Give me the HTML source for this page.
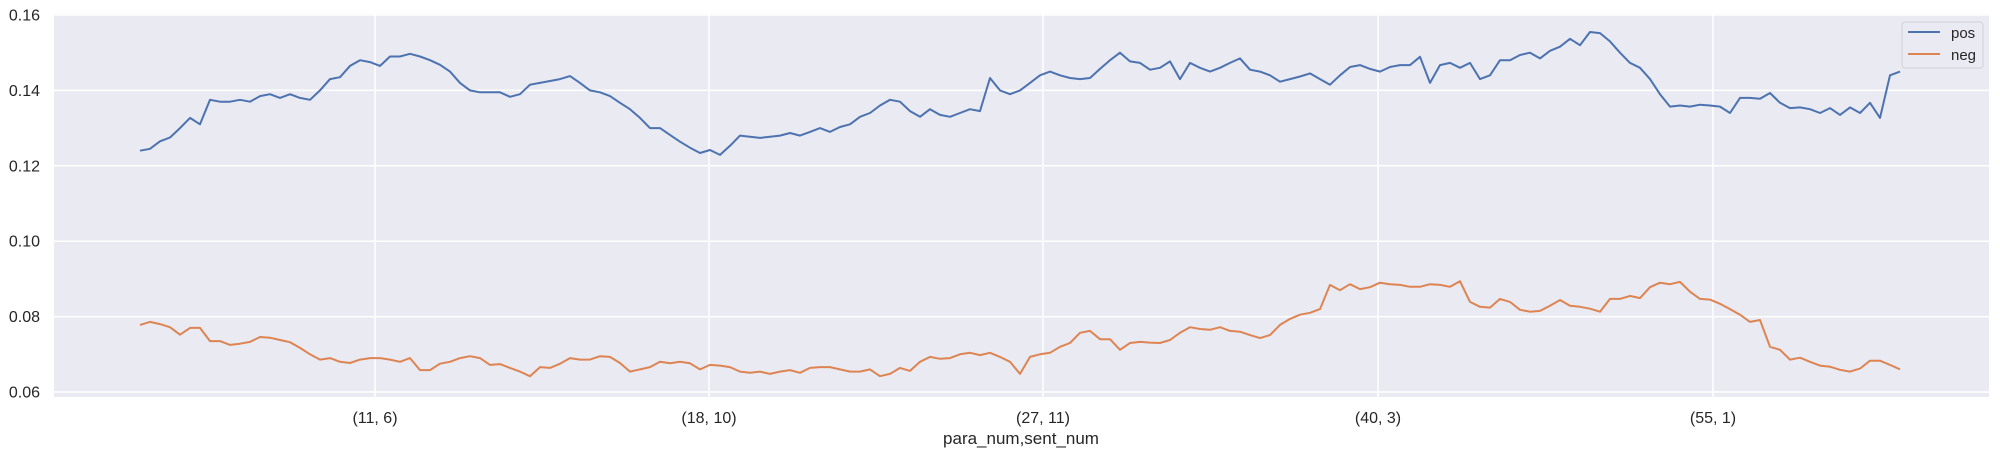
<!DOCTYPE html>
<html><head><meta charset="utf-8"><style>
body{margin:0;background:#fff;}
svg{display:block;font-family:"Liberation Sans",sans-serif;}
</style></head><body>
<svg id="chart" width="2000" height="456" viewBox="0 0 2000 456" xmlns="http://www.w3.org/2000/svg">
<rect x="54" y="14" width="1935" height="383" fill="#eaeaf2"/>
<g id="grid"></g>
<g id="series"></g>
<g id="yticks"></g>
<g id="xticks"></g>
<text x="1021" y="444" font-size="17" text-anchor="middle" fill="#262626">para_num,sent_num</text>
<g>
<rect x="1902" y="22" width="81" height="46" rx="3" fill="#eaeaf2" stroke="#d0d0d8" stroke-width="1"/>
<line x1="1908" y1="32" x2="1940" y2="32" stroke="#4c72b0" stroke-width="2"/>
<text x="1951" y="38" font-size="15" fill="#262626">pos</text>
<line x1="1908" y1="54" x2="1940" y2="54" stroke="#dd8452" stroke-width="2"/>
<text x="1951" y="60" font-size="15" fill="#262626">neg</text>
</g>
</svg>
<script>
const posValues=[.124,.1245,.1265,.1275,.130,.1327,.131,.1375,.137,.137,.1375,.137,.1385,.139,.138,.139,.138,.1375,.140,.143,.1435,.1465,.148,.1475,.1465,.149,.149,.1497,.149,.148,.1468,.145,.142,.140,.1395,.1395,.1395,.1383,.139,.1415,.142,.1425,.143,.1438,.142,.140,.1395,.1385,.1367,.135,.1327,.130,.130,.1282,.1264,.1248,.1234,.1242,.1229,.1253,.128,.1277,.1274,.1277,.128,.1287,.128,.129,.130,.129,.1303,.131,.133,.134,.136,.1375,.137,.1345,.133,.135,.1335,.133,.134,.135,.1345,.1433,.140,.139,.140,.142,.144,.145,.144,.1433,.143,.1433,.1457,.148,.150,.1477,.1473,.1455,.146,.1477,.143,.1473,.146,.145,.146,.1473,.1485,.1455,.145,.144,.1423,.143,.1437,.1445,.143,.1415,.144,.1462,.1467,.1457,.145,.1462,.1467,.1467,.1489,.142,.1467,.1473,.146,.1473,.143,.144,.148,.148,.1494,.150,.1485,.1505,.1516,.1537,.152,.1555,.1552,.153,.150,.1473,.146,.143,.139,.1357,.136,.1357,.1362,.136,.1357,.134,.138,.138,.1378,.1393,.1367,.1353,.1355,.135,.134,.1353,.1335,.1355,.134,.1367,.1327,.144,.145];
const negValues=[.0778,.0786,.078,.0772,.0752,.077,.077,.0735,.0735,.0725,.0728,.0733,.0746,.0744,.0738,.0732,.0717,.070,.0686,.069,.068,.0677,.0686,.069,.069,.0686,.068,.069,.0658,.0658,.0675,.068,.069,.0695,.069,.0672,.0674,.0664,.0654,.0642,.0666,.0664,.0675,.069,.0686,.0686,.0695,.0693,.0677,.0654,.066,.0666,.068,.0676,.068,.0676,.066,.0672,.067,.0666,.0654,.0651,.0654,.0648,.0654,.0658,.0651,.0664,.0666,.0666,.066,.0654,.0654,.066,.0642,.0648,.0664,.0656,.068,.0693,.0688,.069,.070,.0704,.0698,.0704,.0693,.068,.0648,.0693,.070,.0704,.072,.073,.0757,.0762,.074,.074,.0712,.073,.0733,.0731,.073,.0738,.0757,.0772,.0767,.0765,.0772,.0762,.076,.0751,.0743,.0751,.0778,.0794,.0805,.081,.082,.0884,.087,.0886,.0873,.0878,.089,.0886,.0884,.0879,.0879,.0886,.0884,.0879,.0894,.0839,.0826,.0824,.0847,.0839,.0818,.0813,.0815,.0829,.0844,.0829,.0826,.0821,.0813,.0847,.0847,.0855,.0849,.0878,.089,.0886,.0892,.0866,.0847,.0845,.0834,.082,.0805,.0786,.0791,.072,.0712,.0686,.0691,.068,.067,.0667,.0659,.0654,.0662,.0683,.0683,.0672,.066];
const yTickValues=[0.06,0.08,0.10,0.12,0.14,0.16];
const yTickLabels=["0.06","0.08","0.10","0.12","0.14","0.16"];
const xTickIndex=[23.5,56.9,90.3,123.8,157.3];
const xTickLabels=["(11, 6)","(18, 10)","(27, 11)","(40, 3)","(55, 1)"];

const NS="http://www.w3.org/2000/svg";
function X(i){return 140+i*10;}
function Y(v){return 15+(0.16-v)/0.10*377;}
function mk(tag,attrs,parent){const e=document.createElementNS(NS,tag);for(const k in attrs)e.setAttribute(k,attrs[k]);parent.appendChild(e);return e;}
const grid=document.getElementById('grid'),series=document.getElementById('series'),yt=document.getElementById('yticks'),xt=document.getElementById('xticks');
yTickValues.forEach((v,k)=>{
  const g=mk('line',{x1:54,x2:1989,y1:Y(v),y2:Y(v),stroke:'#fff','stroke-width':1.5},grid);
  
  
  const t=mk('text',{x:40,y:Y(v)+5.5,'font-size':16,'text-anchor':'end',fill:'#262626'},yt);
  t.textContent=yTickLabels[k];
  
  
});
xTickIndex.forEach((i,k)=>{
  const g=mk('line',{x1:X(i),x2:X(i),y1:14,y2:397,stroke:'#fff','stroke-width':1.5},grid);
  
  
  const t=mk('text',{x:X(i),y:423,'font-size':16,'text-anchor':'middle',fill:'#262626'},xt);
  t.textContent=xTickLabels[k];
  
  
});
function line(vals,color,name){
  const d=vals.map((v,i)=>(i?'L':'M')+X(i).toFixed(1)+' '+Y(v).toFixed(1)).join(' ');
  const p=mk('path',{d:d,fill:'none',stroke:color,'stroke-width':2,'stroke-linejoin':'round'},series);
  
  
}
line(posValues,'#4c72b0','pos-line');
line(negValues,'#dd8452','neg-line');
</script>
</body></html>
